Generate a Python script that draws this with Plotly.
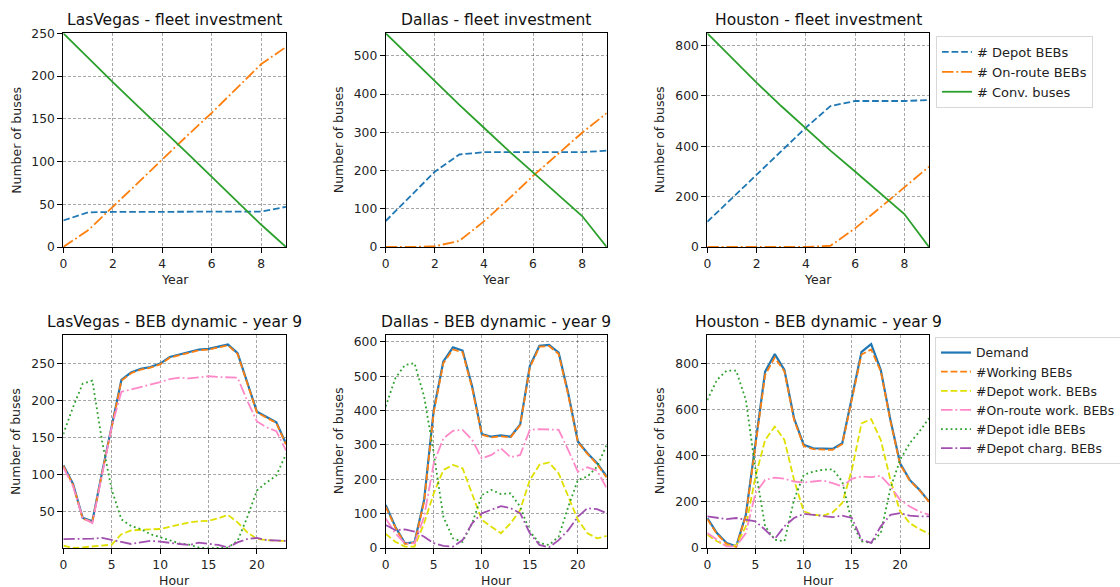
import plotly.graph_objects as go

W, H = 1120, 587

# ---------------- data ----------------
cities = ["LasVegas", "Dallas", "Houston"]
years = list(range(10))
hours = list(range(24))

depot_bebs = {
    "LasVegas": [31, 40.5, 41, 41, 41, 41, 41, 41, 41.5, 47],
    "Dallas": [68, 132, 197, 242, 248, 248, 248, 248, 248, 252],
    "Houston": [100, 193, 287, 380, 474, 560, 580, 580, 580, 584],
}
onroute_bebs = {
    "LasVegas": [0, 19.5, 47, 75, 102, 130, 157, 186, 214, 234],
    "Dallas": [0, 0, 2, 16, 67, 125, 186, 243, 299, 350],
    "Houston": [0, 0, 0, 0, 0, 5, 74, 155, 237, 319],
}
conv_buses = {
    "LasVegas": [250, 221, 193, 165, 138, 110, 82, 54, 26, 0],
    "Dallas": [559, 496, 433, 372, 312, 252, 195, 138, 81, 0],
    "Houston": [849, 751, 653, 560, 470, 383, 300, 215, 131, 0],
}

demand = {
    "LasVegas": [113, 88, 42, 37.5, 103, 168, 228, 238, 243, 245.5, 250, 259, 262.6, 266, 269, 270, 272.5, 275.7, 264, 225, 185, 178, 171, 142],
    "Dallas": [125, 62, 13.6, 16.5, 140, 402, 543, 584, 575, 470, 332, 324, 328, 324, 360, 530, 589, 591, 569, 450, 310, 276, 247, 208],
    "Houston": [130, 65, 22, 7, 144, 454, 764, 840, 771, 562, 447, 432, 429, 429, 454, 656, 850, 883, 771, 555, 367, 295, 252, 202],
}
working = {
    "LasVegas": [112, 87, 41, 36.5, 102, 167, 227, 237, 242, 244.5, 249, 258, 261.6, 265, 268, 269, 271.5, 274.7, 263, 224, 184, 177, 170, 141],
    "Dallas": [120, 60, 12, 15, 135, 395, 538, 578, 570, 465, 330, 322, 325, 322, 358, 525, 586, 588, 565, 445, 308, 274, 244, 205],
    "Houston": [125, 60, 18, 5, 140, 445, 750, 825, 765, 555, 442, 428, 425, 425, 450, 648, 838, 860, 765, 550, 362, 292, 250, 200],
}
depot_work = {
    "LasVegas": [4.5, 1.4, 2.3, 3.2, 4, 5.9, 20, 25, 26, 26, 27, 30, 33, 36, 37.4, 38, 41.4, 46, 36, 22.5, 13.5, 12, 11, 11],
    "Dallas": [41, 18, 4, 4, 72, 159, 227, 242, 232, 159, 82, 62, 43, 72, 111, 198, 242, 249, 217, 150, 82, 43, 28, 35],
    "Houston": [58, 29, 10, 10, 94, 310, 468, 526, 468, 295, 159, 144, 140, 154, 195, 339, 540, 558, 468, 295, 159, 108, 82, 62],
}
onroute_work = {
    "LasVegas": [110, 85, 42, 35, 100, 165, 212, 215, 218, 221, 225, 229, 231, 230, 232, 233, 232, 231, 231, 200, 172, 164, 159, 133],
    "Dallas": [86, 43, 13.6, 13.6, 91, 247, 319, 341, 344, 315, 261, 271, 290, 264, 271, 344, 346, 344, 344, 285, 222, 235, 225, 174],
    "Houston": [65, 36, 7, 7, 65, 238, 295, 305, 300, 288, 284, 288, 292, 281, 267, 300, 310, 307, 313, 267, 209, 180, 158, 144],
}
depot_idle = {
    "LasVegas": [155, 191, 223, 227, 146, 80, 40, 31, 27, 20, 16, 11.5, 7.6, 6, 2, 1, 1, 2, 11, 43, 79, 90, 99, 128],
    "Dallas": [412, 494, 533, 538, 441, 276, 91, 28, 18, 72, 154, 169, 157, 159, 120, 48, 14, 9, 33, 120, 198, 208, 237, 300],
    "Houston": [641, 728, 768, 768, 641, 339, 94, 36, 29, 209, 317, 331, 339, 341, 288, 108, 29, 22, 65, 259, 382, 454, 504, 562],
}
depot_charg = {
    "LasVegas": [13.5, 13.5, 13.5, 14, 15, 12, 10, 6.8, 9, 11, 10, 8, 6.8, 5.4, 8.6, 7, 5.5, 2.3, 9, 13.5, 15, 12, 11, 11],
    "Dallas": [67, 52, 54, 48, 33, 14, 6, 4, 23, 72, 101, 111, 122, 116, 101, 43, 9, 2, 23, 52, 91, 116, 113, 101],
    "Houston": [137, 130, 125, 130, 122, 115, 79, 39, 94, 130, 148, 144, 140, 134, 140, 130, 36, 22, 94, 144, 151, 140, 137, 137],
}

top_yrange = {"LasVegas": [0, 250], "Dallas": [0, 559], "Houston": [0, 849]}
top_ytick = {"LasVegas": 50, "Dallas": 100, "Houston": 200}
bot_yrange = {"LasVegas": [1.4, 289], "Dallas": [0, 621], "Houston": [0, 924]}
bot_ytick = {"LasVegas": 50, "Dallas": 100, "Houston": 200}
bot_tick0 = {"LasVegas": 50, "Dallas": 0, "Houston": 0}

# ---------------- layout geometry (pixels) ----------------
col_px = [(63.3, 286.0), (385.7, 606.7), (707.3, 929.0)]
row_px = [(33.3, 247.0), (334.7, 548.0)]
ylab_px = [15.7, 338, 659]

def px_x(x):
    return x / W

def px_y(y):
    return 1 - y / H

FONT = "DejaVu Sans"
BLUE, ORANGE, GREEN = "#1f77b4", "#ff7f0e", "#2ca02c"
YELLOW, PINK, PURPLE = "#e0e000", "#ff88c8", "#a150b0"
DASH = "6.7px,2.9px"
DASHDOT = "11.5px,2.9px,1.8px,2.9px"
DOT = "1.8px,3px"
LW = 1.8

fig = go.Figure()
annotations = []
layout_axes = {}

for ci, city in enumerate(cities):
    for ri in range(2):
        idx = ri * 3 + ci + 1
        xa = "x" if idx == 1 else f"x{idx}"
        ya = "y" if idx == 1 else f"y{idx}"
        xkey = "xaxis" if idx == 1 else f"xaxis{idx}"
        ykey = "yaxis" if idx == 1 else f"yaxis{idx}"
        x0, x1 = col_px[ci]
        yt, yb = row_px[ri]
        common = dict(
            showline=True, mirror=True, linecolor="black", linewidth=1,
            ticks="outside", ticklen=5, tickwidth=1, tickcolor="black",
            showgrid=True, gridcolor="rgba(0,0,0,0.35)", gridwidth=0.6,
            griddash="3px,2px", zeroline=False, automargin=False,
            tickfont=dict(family=FONT, size=12.3, color="#222"),
        )
        if ri == 0:
            xr, dt_x, ytick0 = [0, 9], 2, 0
            yr, dty = top_yrange[city], top_ytick[city]
        else:
            xr, dt_x = [0, 23], 5
            yr, dty, ytick0 = bot_yrange[city], bot_ytick[city], bot_tick0[city]
        layout_axes[xkey] = dict(common, domain=[px_x(x0), px_x(x1)], range=xr,
                                 tickmode="linear", tick0=0, dtick=dt_x, anchor=ya)
        layout_axes[ykey] = dict(common, domain=[px_y(yb), px_y(yt)], range=yr,
                                 tickmode="linear", tick0=ytick0, dtick=dty, anchor=xa)

        show = (ci == 2)
        if ri == 0:
            series = [
                ("# Depot BEBs", depot_bebs[city], BLUE, DASH, LW),
                ("# On-route BEBs", onroute_bebs[city], ORANGE, DASHDOT, LW),
                ("# Conv. buses", conv_buses[city], GREEN, "solid", LW),
            ]
            for name, vals, col, dash, lw in series:
                fig.add_trace(go.Scatter(x=years, y=vals, mode="lines", name=name,
                                         line=dict(color=col, dash=dash, width=lw),
                                         xaxis=xa, yaxis=ya, showlegend=show,
                                         legend="legend"))
            title = f"{city} - fleet investment"
            xlabel = "Year"
        else:
            series = [
                ("Demand", demand[city], BLUE, "solid", 2.2),
                ("#Working BEBs", working[city], ORANGE, DASH, LW),
                ("#Depot work. BEBs", depot_work[city], YELLOW, DASH, LW),
                ("#On-route work. BEBs", onroute_work[city], PINK, DASHDOT, LW),
                ("#Depot idle BEBs", depot_idle[city], GREEN, DOT, LW),
                ("#Depot charg. BEBs", depot_charg[city], PURPLE, DASHDOT, LW),
            ]
            for name, vals, col, dash, lw in series:
                fig.add_trace(go.Scatter(x=hours, y=vals, mode="lines", name=name,
                                         line=dict(color=col, dash=dash, width=lw),
                                         xaxis=xa, yaxis=ya, showlegend=show,
                                         legend="legend2"))
            title = f"{city} - BEB dynamic - year 9"
            xlabel = "Hour"

        cx = (x0 + x1) / 2
        annotations.append(dict(text=title, x=px_x(cx), y=px_y(yt - 13), xref="paper", yref="paper",
                                xanchor="center", yanchor="middle", showarrow=False,
                                font=dict(family=FONT, size=15.5, color="#111")))
        annotations.append(dict(text=xlabel, x=px_x(cx), y=px_y(yb + 32), xref="paper", yref="paper",
                                xanchor="center", yanchor="middle", showarrow=False,
                                font=dict(family=FONT, size=12.5, color="#222")))
        annotations.append(dict(text="Number of buses", x=px_x(ylab_px[ci]), y=px_y((yt + yb) / 2),
                                xref="paper", yref="paper", xanchor="center", yanchor="middle",
                                textangle=-90, showarrow=False,
                                font=dict(family=FONT, size=12.5, color="#222")))

legend_common = dict(
    xanchor="left", yanchor="top", bgcolor="white", bordercolor="#d8d8d8", borderwidth=1,
    itemwidth=30, tracegroupgap=0,
)
fig.update_layout(
    width=W, height=H, margin=dict(l=0, r=0, t=0, b=0, pad=0, autoexpand=False),
    paper_bgcolor="white", plot_bgcolor="white",
    font=dict(family=FONT, size=12),
    annotations=annotations,
    legend=dict(legend_common, x=px_x(936), y=px_y(36),
                font=dict(family=FONT, size=13, color="#222")),
    legend2=dict(legend_common, x=px_x(935), y=px_y(337),
                 font=dict(family=FONT, size=12.4, color="#222")),
    **layout_axes,
)

fig.write_html(
    "out.html",
    config={"displayModeBar": False},
    post_script="document.body.style.margin='0';document.body.style.overflow='hidden';",
)
